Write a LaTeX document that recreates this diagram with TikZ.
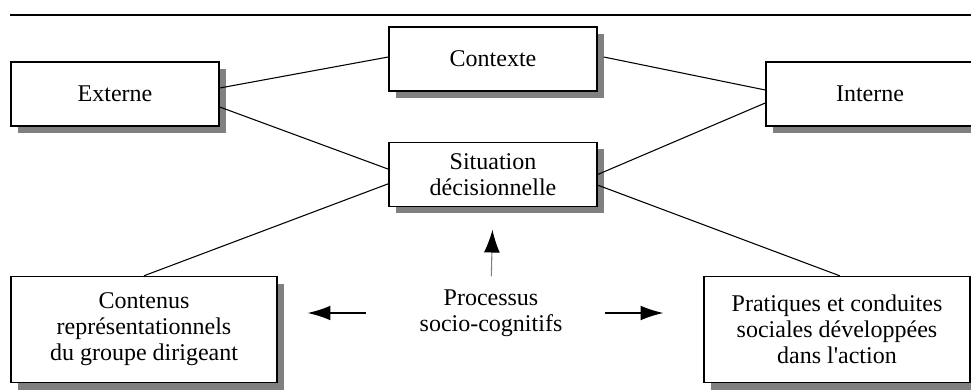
\documentclass[tikz,border=0pt]{standalone}
\usepackage{fontspec}
\setmainfont{Liberation Serif}
\usetikzlibrary{positioning,shadows,arrows.meta}

\begin{document}
\begin{tikzpicture}[x=0.75pt, y=-0.75pt, font=\fontsize{18}{19.5}\selectfont,
  box/.style={draw, line width=1.1pt, fill=white, align=center, inner sep=0pt,
    minimum width=156pt, minimum height=48pt,
    drop shadow={shadow xshift=5.25pt, shadow yshift=-5.25pt, fill=gray, opacity=1}},
  bigbox/.style={box, minimum width=199.5pt, minimum height=79.5pt},
  lien/.style={line width=0.8pt},
  fleche/.style={-{Latex[length=17pt, width=11pt]}, line width=0.8pt}]
\useasboundingbox (0,0) rectangle (971,392);
\draw[line width=0.8pt] (10,15) -- (971,15);

\node[box] (Externe) at (115,94) {Externe};
\node[box] (Contexte) at (493,59) {Contexte};
\node[box] (Situation) [below=37.5pt of Contexte] {Situation\\d\'ecisionnelle};
\node[box] (Interne) at (870,94) {Interne};
\node[bigbox] (Contenus) at (144,329.5) {Contenus\\repr\'esentationnels\\du groupe dirigeant};
\node[bigbox] (Pratiques) at (837,329.5) {Pratiques et conduites\\sociales d\'evelopp\'ees\\dans l\textquotesingle action};
\node[align=center, inner sep=0pt] (Processus) at (491,313) {Processus\\socio-cognitifs};

\draw[lien] ([yshift=4.5pt]Externe.east) -- ([yshift=1.5pt]Contexte.west);
\draw[lien] ([yshift=-9.75pt]Externe.east) -- ([yshift=4pt]Situation.west);
\draw[lien] ([yshift=-7pt]Situation.west) -- (Contenus.north);
\draw[lien] ([xshift=4.5pt,yshift=1.5pt]Contexte.east) -- ([yshift=3pt]Interne.west);
\draw[lien] (Situation.east) -- ([yshift=-6.75pt]Interne.west);
\draw[lien] ([yshift=-8pt]Situation.east) -- ([xshift=2pt]Pratiques.north);

\draw[fleche, draw=gray, -{Latex[black, length=17pt, width=12pt]}, shorten <=9.75pt, shorten >=17pt] (Processus.north) -- (Situation.south);
\draw[fleche, shorten <=40pt, shorten >=22.5pt] (Processus.west) -- (Processus.west -| Contenus.east);
\draw[fleche, shorten <=32pt, shorten >=30pt] (Processus.east) -- (Processus.east -| Pratiques.west);
\end{tikzpicture}
\end{document}
